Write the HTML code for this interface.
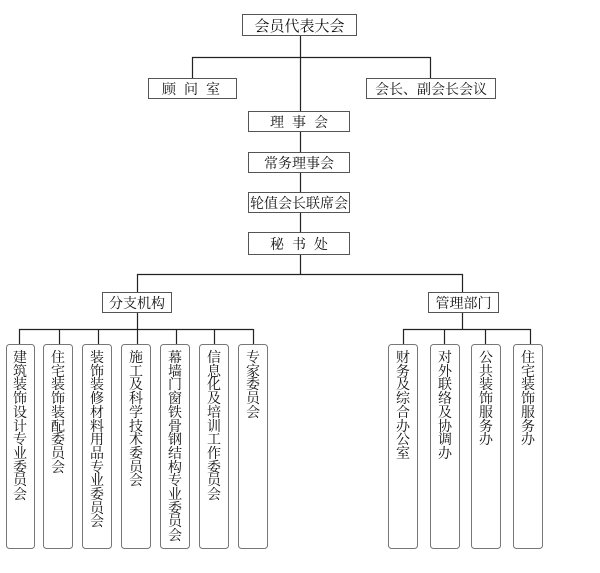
<!DOCTYPE html>
<html><head><meta charset="utf-8"><style>
html,body{margin:0;padding:0;background:#fff;}
body{position:relative;width:600px;height:573px;overflow:hidden;}
svg{display:block;position:absolute;left:0;top:0;}
text{font-family:"Liberation Serif","Noto Serif CJK SC",serif;fill:#111;}
.v{position:absolute;top:352px;width:14px;font-size:14px;line-height:13.7px;font-family:"Liberation Serif","Noto Serif CJK SC",serif;color:#111;word-break:break-all;text-align:center;}
</style></head><body>
<svg width="600" height="573" viewBox="0 0 600 573" xmlns="http://www.w3.org/2000/svg">
<g stroke="#222" stroke-width="1.2" fill="none">
<line x1="300.5" y1="35" x2="300.5" y2="274"/>
<line x1="192" y1="57.5" x2="431" y2="57.5"/>
<line x1="192.5" y1="57" x2="192.5" y2="78"/>
<line x1="430.5" y1="57" x2="430.5" y2="78"/>
<line x1="137" y1="274.5" x2="463" y2="274.5"/>
<line x1="137.5" y1="274" x2="137.5" y2="292"/>
<line x1="462.5" y1="274" x2="462.5" y2="292"/>
<line x1="137.5" y1="312" x2="137.5" y2="329"/>
<line x1="462.5" y1="312" x2="462.5" y2="329"/>
<line x1="19" y1="329.5" x2="253" y2="329.5"/>
<line x1="403" y1="329.5" x2="531" y2="329.5"/>
<line x1="19.5" y1="329" x2="19.5" y2="344"/>
<line x1="59.5" y1="329" x2="59.5" y2="344"/>
<line x1="98.5" y1="329" x2="98.5" y2="344"/>
<line x1="137.5" y1="329" x2="137.5" y2="344"/>
<line x1="176.5" y1="329" x2="176.5" y2="344"/>
<line x1="214.5" y1="329" x2="214.5" y2="344"/>
<line x1="253.5" y1="329" x2="253.5" y2="344"/>
<line x1="403.5" y1="329" x2="403.5" y2="344"/>
<line x1="444.5" y1="329" x2="444.5" y2="344"/>
<line x1="485.5" y1="329" x2="485.5" y2="344"/>
<line x1="530.5" y1="329" x2="530.5" y2="344"/>
</g>
<g stroke="#555" stroke-width="1" fill="#fff">
<rect x="242.5" y="14.5" width="114" height="21"/>
<rect x="148.5" y="78.5" width="88" height="20"/>
<rect x="366.5" y="78.5" width="129" height="20"/>
<rect x="248.5" y="111.5" width="101" height="20"/>
<rect x="248.5" y="152.5" width="101" height="20"/>
<rect x="248.5" y="192.5" width="101" height="20"/>
<rect x="248.5" y="232.5" width="101" height="22"/>
<rect x="102.5" y="292.5" width="69" height="20"/>
<rect x="428.5" y="292.5" width="70" height="20"/>
</g>
<g stroke="#777" stroke-width="1" fill="#fff">
<rect x="6.5" y="344.5" width="28" height="204" rx="3"/>
<rect x="43.5" y="344.5" width="29" height="204" rx="3"/>
<rect x="82.5" y="344.5" width="29" height="204" rx="3"/>
<rect x="121.5" y="344.5" width="29" height="204" rx="3"/>
<rect x="160.5" y="344.5" width="29" height="204" rx="3"/>
<rect x="199.5" y="344.5" width="29" height="204" rx="3"/>
<rect x="238.5" y="344.5" width="29" height="204" rx="3"/>
<rect x="388.5" y="344.5" width="29" height="204" rx="3"/>
<rect x="430.5" y="344.5" width="29" height="204" rx="3"/>
<rect x="471.5" y="344.5" width="29" height="204" rx="3"/>
<rect x="513.5" y="344.5" width="29" height="204" rx="3"/>
</g>
<g font-size="15" text-anchor="middle">
<text x="299.5" y="31">会员代表大会</text>
<text x="195" y="94" font-size="14" letter-spacing="8">顾问室</text>
<text x="431" y="94" font-size="14">会长、副会长会议</text>
<text x="303" y="127" font-size="14" letter-spacing="8">理事会</text>
<text x="299" y="168" font-size="14">常务理事会</text>
<text x="299" y="208" font-size="14">轮值会长联席会</text>
<text x="303" y="249" font-size="14" letter-spacing="8">秘书处</text>
<text x="137" y="308" font-size="14">分支机构</text>
<text x="463.5" y="308" font-size="14">管理部门</text>
</g>
</svg>
<div class="v" style="left:13px">建筑装饰设计专业委员会</div>
<div class="v" style="left:51px">住宅装饰装配委员会</div>
<div class="v" style="left:90px">装饰装修材料用品专业委员会</div>
<div class="v" style="left:129px">施工及科学技术委员会</div>
<div class="v" style="left:168px">幕墙门窗铁骨钢结构专业委员会</div>
<div class="v" style="left:207px">信息化及培训工作委员会</div>
<div class="v" style="left:246px">专家委员会</div>
<div class="v" style="left:396px">财务及综合办公室</div>
<div class="v" style="left:438px">对外联络及协调办</div>
<div class="v" style="left:479px">公共装饰服务办</div>
<div class="v" style="left:521px">住宅装饰服务办</div>
</body></html>
